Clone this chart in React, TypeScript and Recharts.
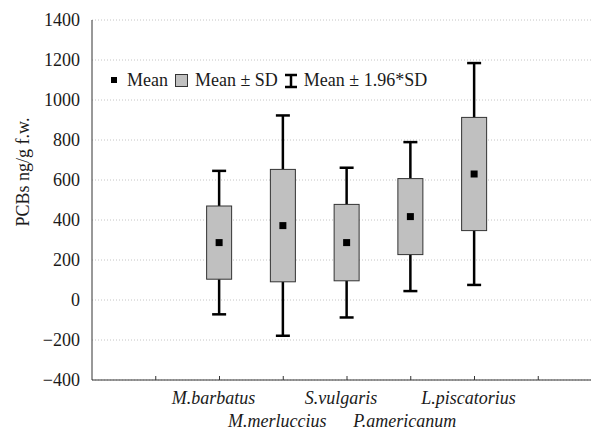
import { ComposedChart, Bar, XAxis, YAxis, CartesianGrid } from "recharts";

// ── Data ─────────────────────────────────────────────────────────────

const species = [
  "M.barbatus",
  "M.merluccius",
  "S.vulgaris",
  "P.americanum",
  "L.piscatorius",
];
const means = [287, 372, 287, 417, 630];
const sds = [183, 281, 191, 190, 283];
const yTicks = [-400, -200, 0, 200, 400, 600, 800, 1000, 1200, 1400];
const xTicks = [0, 1, 2, 3, 4, 5, 6];

// box spans mean ± SD, whiskers reach mean ± 1.96*SD
const data = species.map((name, i) => ({
  pos: i + 1,
  name,
  mean: means[i],
  box: [means[i] - sds[i], means[i] + sds[i]],
}));

const FONT = "'Liberation Serif', 'Times New Roman', serif";
const INK = "#1a1a1a";

// ── Pieces ───────────────────────────────────────────────────────────

function SpeciesTick(props: any) {
  const { x, y, payload } = props;
  const name = species[payload.value - 1];
  if (!name) return <g />;
  const lower = payload.value % 2 === 0;
  return (
    <text
      x={x - 6}
      y={y + (lower ? 49 : 26)}
      textAnchor="middle"
      style={{ fontFamily: FONT, fontStyle: "italic", fontSize: 18 }}
      fill={INK}
    >
      {name}
    </text>
  );
}

// box from the bar's own geometry; whiskers scaled from it (1.96 vs 1 SD)
function BoxWhisker(props: any) {
  const { x, y, width, height } = props;
  if (width == null || height == null) return <g />;
  const cx = x + width / 2;
  const cy = y + height / 2;
  const half = Math.abs(height) / 2;
  const top = Math.min(y, y + height);
  const bottom = Math.max(y, y + height);
  const ext = half * 0.96;
  return (
    <g>
      <line x1={cx} x2={cx} y1={top - ext} y2={top} stroke="#000" strokeWidth={2.5} />
      <line x1={cx} x2={cx} y1={bottom} y2={bottom + ext} stroke="#000" strokeWidth={2.5} />
      <line x1={cx - 7} x2={cx + 7} y1={top - ext} y2={top - ext} stroke="#000" strokeWidth={2.5} />
      <line x1={cx - 7} x2={cx + 7} y1={bottom + ext} y2={bottom + ext} stroke="#000" strokeWidth={2.5} />
      <rect x={x} y={top} width={width} height={bottom - top} fill="#c0c0c0" stroke="#333" strokeWidth={1} />
      <rect x={cx - 3.5} y={cy - 3.5} width={7} height={7} fill="#000" />
    </g>
  );
}

function LegendRow() {
  const txt = { fontFamily: FONT, fontSize: 18, color: INK, lineHeight: "20px" };
  return (
    <div
      style={{
        position: "absolute",
        left: 110,
        top: 70,
        display: "flex",
        alignItems: "center",
        whiteSpace: "nowrap",
      }}
    >
      <svg width={8} height={20}>
        <rect x={1} y={7} width={6} height={6} fill="#000" />
      </svg>
      <span style={{ ...txt, marginLeft: 9 }}>Mean</span>
      <svg width={14} height={20} style={{ marginLeft: 7 }}>
        <rect x={0.5} y={4.5} width={12} height={12} fill="#c0c0c0" stroke="#333" />
      </svg>
      <span style={{ ...txt, marginLeft: 6 }}>Mean ± SD</span>
      <svg width={16} height={20} style={{ marginLeft: 5 }}>
        <line x1={2} x2={14} y1={5} y2={5} stroke="#000" strokeWidth={2.5} />
        <line x1={8} x2={8} y1={5} y2={17} stroke="#000" strokeWidth={2.5} />
        <line x1={2} x2={14} y1={17} y2={17} stroke="#000" strokeWidth={2.5} />
      </svg>
      <span style={{ ...txt, marginLeft: 5 }}>Mean ± 1.96*SD</span>
    </div>
  );
}

// ── Chart ────────────────────────────────────────────────────────────

export default function App() {
  return (
    <div
      style={{
        position: "fixed",
        left: 0,
        top: 0,
        width: 591,
        height: 430,
        overflow: "hidden",
        background: "#fff",
        fontFamily: FONT,
      }}
    >
      <ComposedChart
        width={610}
        height={430}
        data={data}
        margin={{ top: 20, right: 8, bottom: 0, left: 20 }}
        style={{ fontFamily: FONT }}
      >
        <CartesianGrid vertical={false} stroke="#c4c4c4" strokeDasharray="1 2" />
        <XAxis
          dataKey="pos"
          type="number"
          domain={[-1, 7]}
          ticks={xTicks}
          height={50}
          stroke="#333"
          tickSize={-4}
          tick={<SpeciesTick />}
          interval={0}
        />
        <XAxis
          xAxisId="top"
          dataKey="pos"
          type="number"
          orientation="top"
          domain={[-1, 7]}
          ticks={xTicks}
          height={0}
          stroke="#333"
          tickSize={-4}
          tick={() => <g />}
        />
        <YAxis
          type="number"
          domain={[-400, 1400]}
          ticks={yTicks}
          width={72}
          stroke="#333"
          tickLine={false}
          tickMargin={6}
          tickFormatter={(v: number) => String(v).replace("-", "\u2212")}
          tick={{ fontSize: 18, fill: INK, style: { fontFamily: FONT } }}
          label={{
            content: () => (
              <text
                x={23}
                y={172}
                transform="rotate(-90 23 172)"
                textAnchor="middle"
                dominantBaseline="central"
                style={{ fontFamily: FONT, fontSize: 18 }}
                fill={INK}
              >
                PCBs ng/g f.w.
              </text>
            ),
          }}
        />
        <Bar
          dataKey="box"
          barSize={25}
          shape={<BoxWhisker />}
          isAnimationActive={false}
        />
      </ComposedChart>
      <LegendRow />
    </div>
  );
}
